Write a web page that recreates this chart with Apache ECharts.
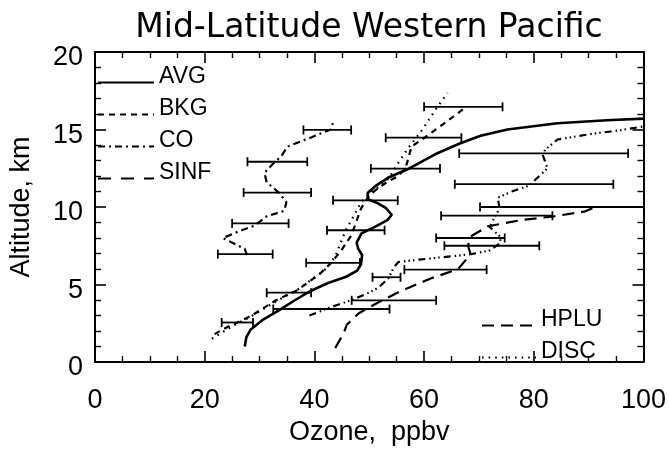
<!DOCTYPE html>
<html>
<head>
<meta charset="utf-8">
<script src="https://cdn.jsdelivr.net/npm/echarts@6/dist/echarts.min.js"></script>
<style>html,body{margin:0;padding:0;background:#fff}#c{width:669px;height:451px}</style>
</head>
<body>
<div id="c"></div>
<script>
// [ozone ppbv, altitude km]
const avgData = [[27.3,1.0],[27.6,1.6],[28.4,2.1],[30.5,2.7],[33.6,3.35],[36.5,4.0],[39.4,4.6],[42.5,5.1],[45.8,5.5],[47.8,5.9],[48.5,6.3],[48.7,6.9],[48.0,7.3],[47.7,7.7],[48.6,8.3],[51.2,8.75],[53.3,9.15],[54.1,9.5],[53.0,9.95],[51.5,10.25],[49.8,10.5],[49.7,10.9],[51.3,11.4],[53.5,11.9],[56.8,12.4],[62.0,13.4],[66.5,14.1],[70.3,14.6],[75.2,15.0],[84.3,15.4],[93.3,15.6],[100,15.7]];
const bkgData = [[21.8,1.8],[23.3,2.1],[25.0,2.4],[26.9,2.7],[28.8,3.05],[31.5,3.65],[33.1,4.0],[36.7,4.6],[38.7,5.1],[40.9,5.65],[43.2,6.45],[45.0,7.25],[46.7,8.15],[47.6,9.0],[48.5,9.9],[49.9,10.7],[51.2,11.1],[53.2,11.6],[55.3,12.0],[56.6,12.5],[57.1,13.1],[57.7,13.9],[60.2,14.5],[63.5,15.35],[67.1,16.3]];
const coData = [[27.7,6.9],[27.3,7.3],[23.3,8.0],[26.0,8.4],[29.1,8.8],[31.3,9.4],[34.5,9.75],[34.9,10.3],[33.6,10.9],[31.3,11.6],[30.9,12.2],[32.2,12.7],[34.0,13.3],[35.1,13.9],[39.5,14.5],[43.0,15.0],[43.6,15.65]];
const sinfData = [[39.1,3.0],[42.7,3.5],[46.8,4.0],[49.5,4.4],[51.7,4.8],[53.5,5.4],[54.5,6.1],[55.3,6.45],[59.0,6.6],[63.1,6.75],[68.5,6.95],[72.0,7.2],[74.0,7.7],[73.8,8.1],[72.0,8.7],[72.9,9.4],[73.8,9.9],[73.4,10.6],[76.0,11.0],[79.2,11.4],[82.5,12.5],[81.6,13.4],[82.1,13.7],[84.3,14.35],[90.2,14.7],[95.7,14.95],[100,15.2]];
const hpluData = [[43.8,0.9],[45.4,1.9],[45.9,2.4],[48.1,3.15],[51.7,3.85],[55.9,4.6],[61.3,5.4],[66.2,6.0],[68.5,6.95],[68.0,7.5],[68.5,8.1],[71.6,8.75],[77.6,9.15],[83.7,9.4],[89.2,9.7],[91.5,10.05]];
const discData = [[21.3,1.5],[25.0,2.3],[28.5,2.95],[32.7,3.85],[37.3,4.75],[42.1,6.0],[43.8,6.8],[45.7,8.5],[47.3,9.5],[48.5,10.3],[50.5,11.0],[53.0,11.6],[53.9,12.05],[55.3,12.85],[57.1,13.8],[59.3,14.8],[60.8,15.6],[62.5,16.5],[64.3,17.35]];
// [altitude, low ozone, high ozone]
const errorBars = [[14.97,38.0,46.7],[12.92,27.8,38.7],[10.93,27.1,39.4],[8.94,25.0,35.3],[6.96,22.4,32.4],
  [16.46,60.0,74.3],[14.47,53.0,66.8],[12.48,50.3,62.9],[10.43,43.4,55.2],[8.5,42.3,52.8],[6.4,38.5,48.3],[4.47,31.3,39.4],[3.42,32.5,53.7],[2.55,23.1,28.8],
  [5.47,50.6,55.7],[3.98,46.8,62.2],[5.96,56.4,71.4],[8.0,62.2,74.7],[7.5,63.7,81.0],[9.44,63.1,83.4],[10.0,70.2,104],[13.46,66.4,97.2],[11.47,65.6,94.5]];
const titleText = 'Mid-Latitude Western Pacific';
const xName = 'Ozone,  ppbv';
const yName = 'Altitude, km';
const legendTop = ['AVG', 'BKG', 'CO', 'SINF'];
const legendBottom = ['HPLU', 'DISC'];
const xMin = 0, xMax = 100, xInterval = 20;
const yMin = 0, yMax = 20, yInterval = 5;

const FONT = 'Liberation Sans';
const chart = echarts.init(document.getElementById('c'));
function axisBase(minorSplit) {
  return {
    axisLine: {show: true, onZero: false, lineStyle: {color: '#000', width: 2}},
    axisTick: {show: true, inside: true, length: 11, lineStyle: {color: '#000', width: 1.6}},
    minorTick: {show: true, splitNumber: minorSplit, length: 6, lineStyle: {color: '#000', width: 1.4}},
    splitLine: {show: false}, minorSplitLine: {show: false}
  };
}
function lineSeries(name, data, type, width) {
  return {name, type: 'line', data, symbol: 'none', smooth: false, clip: true,
    itemStyle: {color: 'rgba(0,0,0,0)', borderWidth: 0},
    lineStyle: {color: '#000', width: width || 2, type: type}, z: 3};
}
const legendText = {
  color: '#000', fontFamily: FONT, fontSize: 23,
  rich: {
    t: {color: '#000', fontFamily: FONT, fontSize: 23, lineHeight: 24},
    s: {fontSize: 1, lineHeight: 12}
  }
};
const legendFmt = name => '{t|' + name + '}\n{s| }';
const option = {
  animation: false,
  backgroundColor: '#fff',
  title: {text: titleText, left: 364, textAlign: 'center', top: 7,
    textStyle: {fontFamily: 'DejaVu Sans', fontSize: 33, fontWeight: 'normal', color: '#000'}},
  grid: {left: 94, right: 22, top: 52, bottom: 77, containLabel: false},
  xAxis: [
    Object.assign({type: 'value', min: xMin, max: xMax, interval: xInterval, position: 'bottom',
      axisLabel: {color: '#000', fontFamily: FONT, fontSize: 27, margin: 25, alignMinLabel: 'center', alignMaxLabel: 'center'},
      name: xName, nameLocation: 'middle', nameGap: 57,
      nameTextStyle: {color: '#000', fontFamily: FONT, fontSize: 27}}, axisBase(4)),
    Object.assign({type: 'value', min: xMin, max: xMax, interval: xInterval, position: 'top',
      axisLabel: {show: false}}, axisBase(4))
  ],
  yAxis: [
    Object.assign({type: 'value', min: yMin, max: yMax, interval: yInterval, position: 'left',
      axisLabel: {color: '#000', fontFamily: FONT, fontSize: 27, margin: 12,
        verticalAlignMinLabel: 'middle', verticalAlignMaxLabel: 'middle',
        formatter: v => '{s| }\n{v|' + v + '}',
        rich: {s: {fontSize: 1, lineHeight: 12}, v: {color: '#000', fontFamily: FONT, fontSize: 27, lineHeight: 30}}},
      name: yName, nameLocation: 'middle', nameGap: 60, nameRotate: 90,
      nameTextStyle: {color: '#000', fontFamily: FONT, fontSize: 27}}, axisBase(5)),
    Object.assign({type: 'value', min: yMin, max: yMax, interval: yInterval, position: 'right',
      axisLabel: {show: false}}, axisBase(5))
  ],
  legend: [
    {orient: 'vertical', left: 92, top: 60, itemWidth: 56, itemHeight: 14, itemGap: 2,
      selectedMode: false, itemStyle: {opacity: 0},
      textStyle: legendText, formatter: legendFmt,
      data: legendTop.map(n => n === 'SINF' ? {name: n, lineStyle: {type: [13, 10]}} : {name: n})},
    {orient: 'vertical', left: 476, top: 303, itemWidth: 54, itemHeight: 14, itemGap: 2,
      selectedMode: false, itemStyle: {opacity: 0},
      textStyle: legendText, formatter: legendFmt,
      data: legendBottom.map(n => ({name: n}))}
  ],
  series: [
    lineSeries('AVG', avgData, 'solid', 2.6),
    lineSeries('BKG', bkgData, [6, 5], 2.2),
    lineSeries('CO', coData, [7, 4, 2, 4], 2.2),
    lineSeries('SINF', sinfData, [7, 4, 1.5, 3, 1.5, 3, 1.5, 4], 2.2),
    lineSeries('HPLU', hpluData, [12, 7], 2.2),
    lineSeries('DISC', discData, [1.6, 5], 2.2),
    {
      name: 'errors', type: 'custom', clip: true, z: 4,
      data: errorBars,
      encode: {x: [1, 2], y: 0},
      renderItem: function (params, api) {
        const y = api.value(0), lo = api.value(1), hi = api.value(2);
        const p1 = api.coord([lo, y]), p2 = api.coord([hi, y]);
        const h = 4.5;
        const st = {stroke: '#000', lineWidth: 1.8};
        return {type: 'group', children: [
          {type: 'line', shape: {x1: p1[0], y1: p1[1], x2: p2[0], y2: p2[1]}, style: st},
          {type: 'line', shape: {x1: p1[0], y1: p1[1] - h, x2: p1[0], y2: p1[1] + h}, style: st},
          {type: 'line', shape: {x1: p2[0], y1: p2[1] - h, x2: p2[0], y2: p2[1] + h}, style: st}
        ]};
      }
    }
  ]
};
chart.setOption(option);
</script>
</body>
</html>
